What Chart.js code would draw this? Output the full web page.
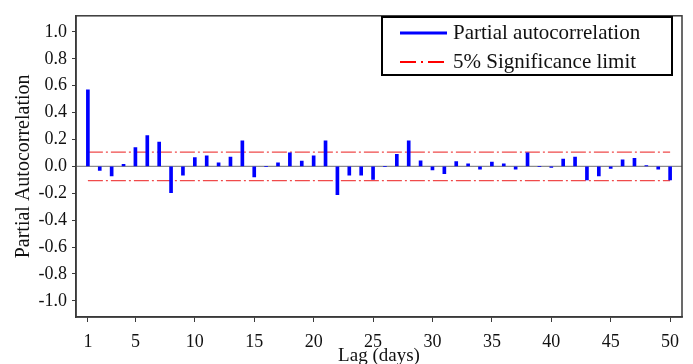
<!DOCTYPE html>
<html>
<head>
<meta charset="utf-8">
<script src="https://cdn.jsdelivr.net/npm/chart.js@4/dist/chart.umd.min.js"></script>
<style>
  html, body { margin: 0; padding: 0; background: #fff; }
  #wrap { width: 693px; height: 364px; }
</style>
</head>
<body>
<div id="wrap"><canvas id="pacf" width="693" height="364"></canvas></div>
<script>
//---------------------------------------
// Data
//---------------------------------------
const lags = [];
for (let i = 1; i <= 50; i++) lags.push(i);

const pacf_values = [
  0.57, -0.03, -0.07, 0.015, 0.14, 0.23, 0.18, -0.195, -0.066, 0.066,
  0.078, 0.027, 0.07, 0.19, -0.078, 0.0, 0.027, 0.10, 0.039, 0.078,
  0.19, -0.21, -0.066, -0.066, -0.097, 0.0, 0.09, 0.19, 0.041, -0.027,
  -0.054, 0.036, 0.019, -0.02, 0.032, 0.019, -0.02, 0.10, 0.0, -0.007,
  0.054, 0.07, -0.10, -0.07, -0.015, 0.049, 0.06, 0.007, -0.02, -0.10
];

const sig_limit = 0.106;
const x_ticks = [1, 5, 10, 15, 20, 25, 30, 35, 40, 45, 50];
const y_ticks = [-1.0, -0.8, -0.6, -0.4, -0.2, 0.0, 0.2, 0.4, 0.6, 0.8, 1.0];
const legend_labels = ['Partial autocorrelation', '5% Significance limit'];

//---------------------------------------
// Plugins
//---------------------------------------
const FONT = '"Liberation Serif", "Times New Roman", serif';

// plot frame
const frame_plugin = {
  id: 'frame',
  afterDraw(chart) {
    const {ctx, chartArea: a} = chart;
    ctx.save();
    ctx.strokeStyle = '#3a3a3a';
    ctx.lineWidth = 1.5;
    ctx.strokeRect(a.left, a.top, a.right - a.left, a.bottom - a.top);
    ctx.restore();
  }
};

// legend box in upper right
const legend_plugin = {
  id: 'boxLegend',
  afterDraw(chart) {
    const ctx = chart.ctx;
    ctx.save();
    ctx.strokeStyle = '#000';
    ctx.lineWidth = 2;
    ctx.strokeRect(382, 17, 290, 58);

    ctx.lineWidth = 3;
    ctx.strokeStyle = '#0000ff';
    ctx.beginPath(); ctx.moveTo(400, 33); ctx.lineTo(447, 33); ctx.stroke();

    ctx.lineWidth = 2;
    ctx.strokeStyle = '#ff0000';
    ctx.setLineDash([16, 5, 2, 5]);
    ctx.beginPath(); ctx.moveTo(400, 62); ctx.lineTo(447, 62); ctx.stroke();
    ctx.setLineDash([]);

    ctx.fillStyle = '#111';
    ctx.font = '21px ' + FONT;
    ctx.textBaseline = 'middle';
    ctx.fillText(legend_labels[0], 453, 33);
    ctx.fillText(legend_labels[1], 453, 62);
    ctx.restore();
  }
};

//---------------------------------------
// Chart
//---------------------------------------
const bar_data = lags.map((l, i) => ({x: l, y: pacf_values[i]}));
const upper = [{x: 1, y: sig_limit}, {x: 50, y: sig_limit}];
const lower = [{x: 1, y: -sig_limit}, {x: 50, y: -sig_limit}];
const zero_line = [{x: 0, y: 0}, {x: 51, y: 0}];

new Chart(document.getElementById('pacf'), {
  type: 'bar',
  data: {
    datasets: [
      {
        type: 'line', data: zero_line, borderColor: '#8c8c8c', borderWidth: 1.3,
        pointRadius: 0, fill: false, order: 3
      },
      {
        type: 'line', data: upper, borderColor: '#f04a4a', borderWidth: 1.3,
        borderDash: [15, 3, 2, 3], pointRadius: 0, fill: false, order: 2
      },
      {
        type: 'line', data: lower, borderColor: '#f04a4a', borderWidth: 1.3,
        borderDash: [15, 3, 2, 3], pointRadius: 0, fill: false, order: 2
      },
      {
        label: legend_labels[0], data: bar_data, backgroundColor: '#0000ff',
        barThickness: 3, order: 1
      }
    ]
  },
  options: {
    responsive: false,
    animation: false,
    layout: { padding: { top: 10, right: 11, left: 0, bottom: 0 } },
    plugins: { legend: { display: false }, tooltip: { enabled: false } },
    scales: {
      x: {
        type: 'linear', min: 0, max: 51, offset: false,
        grid: { display: true, drawOnChartArea: false, offset: false, tickLength: 5, color: '#3a3a3a' },
        border: { color: '#3a3a3a', width: 1.5 },
        afterBuildTicks: (s) => { s.ticks = x_ticks.map(v => ({value: v})); },
        afterFit: (s) => { s.height = 47; },
        ticks: {
          autoSkip: false, maxRotation: 0, padding: 9, color: '#111',
          font: { family: FONT, size: 18 },
          callback: (v) => String(v)
        },
        title: {
          display: true, text: 'Lag (days)', color: '#111',
          font: { family: FONT, size: 19 }, padding: { top: 0, bottom: -3 }
        }
      },
      y: {
        min: -1.12, max: 1.12,
        grid: { display: true, drawOnChartArea: false, tickLength: 4, color: '#3a3a3a' },
        border: { color: '#3a3a3a', width: 1.5 },
        afterBuildTicks: (s) => { s.ticks = y_ticks.map(v => ({value: v})); },
        afterFit: (s) => { s.width = 76; },
        ticks: {
          padding: 5, color: '#111',
          font: { family: FONT, size: 18 },
          callback: (v) => v.toFixed(1)
        },
        title: {
          display: true, text: 'Partial Autocorrelation', color: '#111',
          font: { family: FONT, size: 20 }, padding: { top: 12, bottom: 0 }
        }
      }
    }
  },
  plugins: [frame_plugin, legend_plugin]
});
</script>
</body>
</html>
